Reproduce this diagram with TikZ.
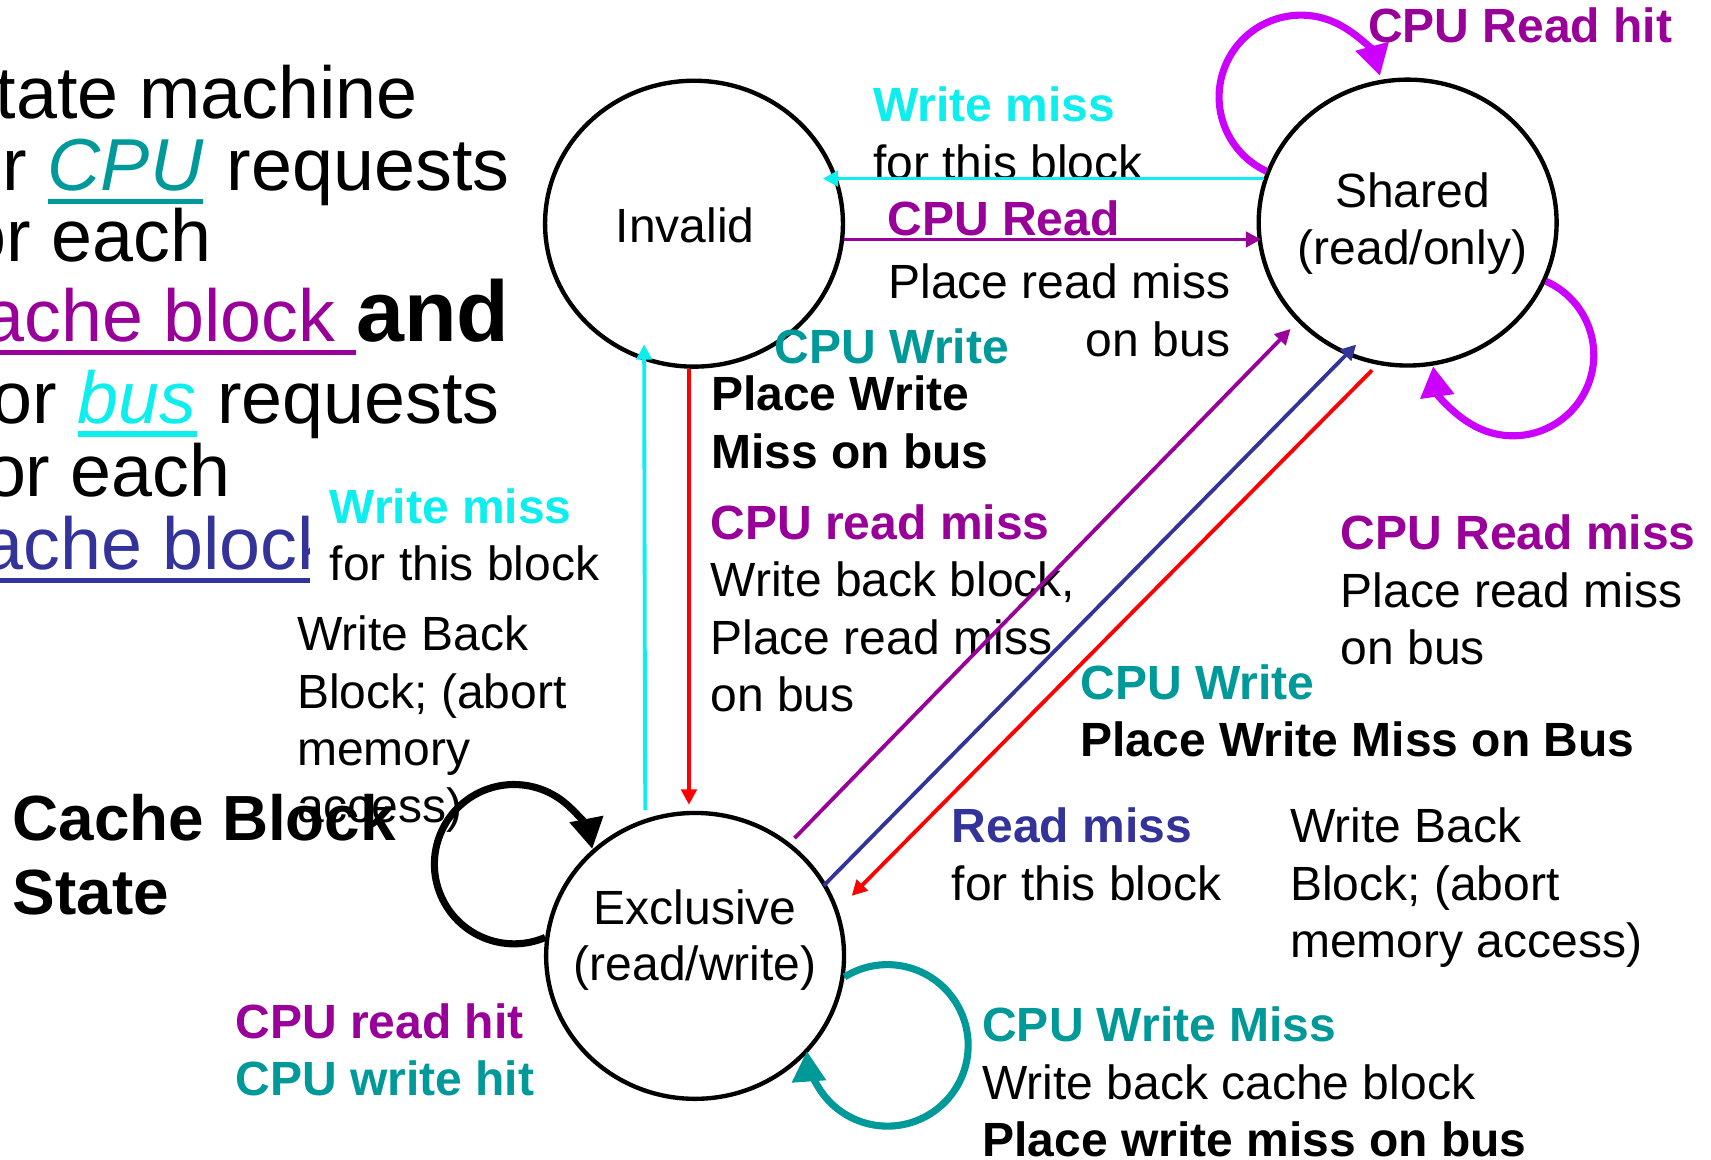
\documentclass[tikz,border=0pt]{standalone}
\usepackage{fontspec}
\setmainfont{Liberation Sans}
\usetikzlibrary{arrows.meta,shapes.geometric}

\definecolor{cyanC}{RGB}{14,238,238}
\definecolor{purpC}{RGB}{153,0,153}
\definecolor{magC}{RGB}{204,0,255}
\definecolor{tealC}{RGB}{0,153,153}
\definecolor{navyC}{RGB}{51,51,153}
\definecolor{redC}{RGB}{255,0,0}

% font sizes
\newcommand\lblfont{\fontsize{44}{52.6}\selectfont}
\newcommand\statefont{\fontsize{44}{51.8}\selectfont}
\newcommand\bigfont{\fontsize{67.5}{80}\selectfont}
\newcommand\cbfont{\fontsize{58.5}{68.2}\selectfont}

% coloured thick underline (colour kept inside the box)
\newcommand\undercol[2]{\setbox0\hbox{{\color{#1}#2}}\rlap{\color{#1}\rule[-12.3pt]{\wd0}{5pt}}\box0\relax}
% stacked lines, baseline at the first line
\newcommand\stk[1]{\begin{tabular}[t]{@{}l@{}}#1\end{tabular}}
\newcommand\rstk[1]{\begin{tabular}[t]{@{}r@{}}#1\end{tabular}}

\tikzset{
  statebox/.style={ellipse, draw, line width=4pt, minimum width=273pt,
    minimum height=262pt, inner sep=0pt},
  statetext/.style={font=\statefont, align=center, inner sep=0pt},
  lbl/.style={inner sep=0pt, anchor=base west, font=\lblfont},
  big/.style={inner sep=0pt, font=\bigfont},
  thinline/.style={line width=3.5pt, -{Triangle[length=14pt,width=14pt]}},
  loopline/.style={line width=6.5pt, -{Triangle[length=28pt,width=30pt]}}
}

\begin{document}
\begin{tikzpicture}[x=1pt,y=1pt]
\useasboundingbox (0,0) rectangle (1568,1063);
\fill[white] (0,0) rectangle (1568,1063);
\clip (0,0) rectangle (1568,1063);

% paragraph on the left
\node[big, anchor=base east] (t1) at (383,954) {State machine};
\node[big, anchor=base west] (t2) at (-54,888) {for \undercol{tealC}{\itshape CPU}\hspace{3pt} requests};
\node[big, anchor=base east] (t3) at (194,823) {for each};
\node[big, anchor=base west] (t4) at (-49,750) {\undercol{purpC}{cache block\ }{\fontsize{79}{90}\selectfont\bfseries and}};
\node[big, anchor=base east] (t5) at (458.1,675) {for \undercol{cyanC}{\itshape bus} requests};
\node[big, anchor=base east] (t6) at (211.6,608) {for each};
\node[big, anchor=base west] (t7) at (-50,541) {\undercol{navyC}{cache block}};

% states
\node[statebox] (inv) at (636,858) {};
\node[statebox] (sh) at (1290,859) {};
\node[statebox] (ex) at (637,187) {};
\node[statetext, xshift=-8pt, yshift=-1.7pt] (invT) at (inv) {Invalid};
\node[statetext, xshift=4.5pt, yshift=-0.7pt] (shT) at (sh) {Shared\\(read/only)};
\node[statetext, yshift=14.7pt] (exT) at (ex) {Exclusive\\(read/write)};

% transition labels
\node[lbl] (wmTop) at (800,951.5) {\stk{\bfseries\color{cyanC}Write miss\\for this block}};
\node[lbl] (cpuRd) at (813,847) {\bfseries\color{purpC}CPU Read};
\node[lbl, anchor=base east] (prmTop) at (1127.5,789) {\rstk{Place read miss\\on bus}};
\node[lbl] (cwInv) at (710,730) {\bfseries\color{tealC}CPU Write};
\node[lbl] (pwmInv) at (651.5,686.6) {\stk{\bfseries Place Write\\\bfseries Miss on bus}};
\node[lbl] (crmEx) at (651,568.7) {\stk{\bfseries\color{purpC}CPU read miss\\Write back block,\\Place read miss\\on bus}};
\node[lbl] (crmSh) at (1228.5,559) {\stk{\bfseries\color{purpC}CPU Read miss\\Place read miss\\on bus}};
\node[lbl] (cwSh) at (990,422) {\stk{\bfseries\color{tealC}CPU Write\\\bfseries Place Write Miss on Bus}};
\node[lbl] (rdMiss) at (872,290.8) {\stk{\bfseries\color{navyC}Read miss\\for this block}};
\node[lbl] (wbRight) at (1182,290.8) {\stk{Write Back\\Block; (abort\\memory access)}};
\node[lbl] (cwMiss) at (900,108.4) {\stk{\bfseries\color{tealC}CPU Write Miss\\Write back cache block\\\bfseries Place write miss on bus}};
\node[lbl] (hits) at (215.6,111.5) {\stk{\bfseries\color{purpC}CPU read hit\\\bfseries\color{tealC}CPU write hit}};
\node[lbl, fill=white, inner xsep=18pt, inner ysep=4pt] (wmLeft) at (284,583.4) {\stk{\bfseries\color{cyanC}Write miss\\for this block}};
\node[lbl] (wbLeft) at (272,466.7) {\stk{Write Back\\Block; (abort\\memory\\access)}};
\node[lbl, font=\cbfont] (cbState) at (11.5,293.2) {\stk{\bfseries Cache Block\\\bfseries State}};
\node[lbl] (rdHit) at (1253.5,1023.9) {\bfseries\color{purpC}CPU Read hit};

% transitions between states
\draw[thinline, draw=cyanC, shorten >=-14pt] (sh.163) -- (sh.163 -| inv.17);
\draw[thinline, draw=purpC, shorten >=-3pt] (inv.-6) -- (inv.-6 -| sh.187);
\draw[thinline, draw=cyanC, shorten <=8pt, shorten >=-15pt] (ex.110.5) -- (inv.250);
\draw[thinline, draw=redC, shorten >=5.5pt] (inv.268) -- (inv.268 |- ex.north);
\draw[thinline, draw=purpC, shorten <=6pt, shorten >=9pt] (ex.50) -- (sh.222.5);
\draw[thinline, draw=navyC, shorten <=-3pt, shorten >=-13.5pt] (ex.29) -- (sh.245.4);
\draw[thinline, draw=redC, shorten <=7pt, shorten >=17.5pt] (sh.258.4) -- (ex.18.5);

% self loops
\draw[loopline, draw=magC] (sh.160.5) arc[start angle=245, end angle=15, radius=75];
\draw[loopline, draw=magC] (sh.-23) arc[start angle=66, end angle=-172, radius=74];
\draw[loopline, draw=black] (ex.173) arc[start angle=-67, end angle=-349, radius=73];
\draw[loopline, draw=tealC] (ex.-8) arc[start angle=122, end angle=-176, radius=74];
\end{tikzpicture}
\end{document}
